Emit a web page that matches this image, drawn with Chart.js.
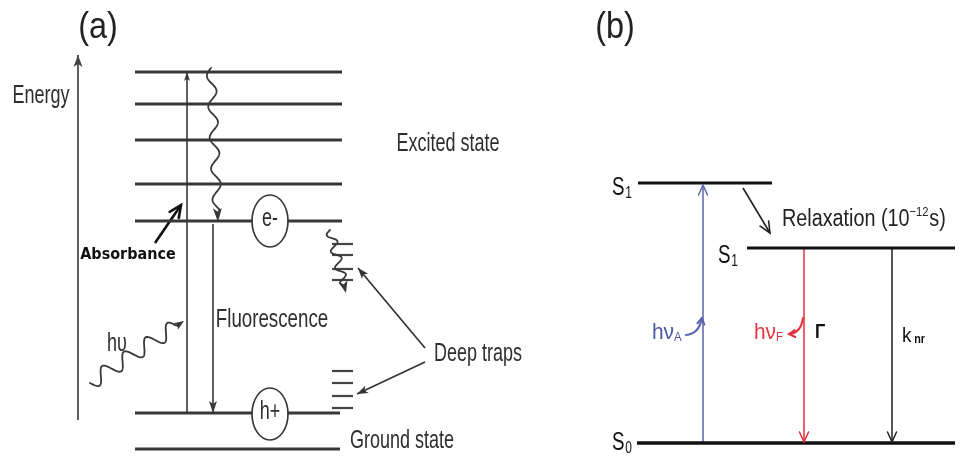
<!DOCTYPE html>
<html>
<head>
<meta charset="utf-8">
<script src="https://cdn.jsdelivr.net/npm/chart.js@4.4.1/dist/chart.umd.min.js"></script>
<style>
  html, body { margin: 0; padding: 0; background: #fff; }
  #wrap { width: 960px; height: 460px; position: relative; }
</style>
</head>
<body>
<div id="wrap"><canvas id="diagram"></canvas></div>
<script>
// ---------- Panel (a): band picture of a nanocrystal (diagram units, y grows downward) ----------
const excitedLevels = [72, 104, 140, 184, 221];   // excited manifold, lowest one holds the electron
const holeLevel = 413;
const groundLevel = 449;
const levelSpanA = [135, 342];
const upperTraps = [244, 255, 269, 280];
const lowerTraps = [371, 383, 396, 408];
const trapSpan = [332, 353];
const carrierLabels = ['e-', 'h+'];
const carrierX = 270;
const carrierY = [221, 414];
const energyAxis = { x: 78, from: 420, to: 55 };
const absorbanceLine = { x: 187, from: 413, to: 72 };
const fluorescenceLine = { x: 213, from: 224, to: 413 };
const photonPaths = [
  { from: [211, 68],  to: [218, 222] },   // intraband relaxation
  { from: [330, 230], to: [346, 293] },   // capture into shallow traps
  { from: [90, 383],  to: [184, 321] }    // incoming photon hυ
];
const pointerArrows = [
  { from: [155, 243], to: [181, 205] },   // Absorbance label
  { from: [425, 348], to: [358, 268] },   // Deep traps -> upper set
  { from: [425, 362], to: [357, 394] }    // Deep traps -> lower set
];
const labelsA = ['(a)', 'Energy', 'Excited state', 'Absorbance', 'Fluorescence', 'hυ', 'Deep traps', 'Ground state'];

// ---------- Panel (b): Jablonski scheme ----------
const stateNames = ['S', 'S', 'S'];
const stateIndex = ['1', '1', '0'];
const stateLevels = [183, 248, 443];
const stateSpans = [[638, 772], [747, 955], [637, 955]];
const transitionX = [703, 804, 892];          // absorption, radiative, non-radiative
const transitionFrom = [443, 249, 249];
const transitionTo = [185, 442, 442];
const relaxationArrow = { from: [743, 188], to: [770, 233] };
const photonHooks = [
  { from: [686, 335], ctrl: [699, 334], to: [702, 318] },
  { from: [803, 318], ctrl: [801, 333], to: [789, 334] }
];

// ---------- styles ----------
const INK_A = '#383838';
const TEXT_A = '#2e2e2e';
const INK_B = '#111111';
const BLUE = '#5a67ae';
const RED = '#e5303b';
const FAMILY = '"Liberation Sans", Arial, sans-serif';

function seg(x0, y0, x1, y1, color, width, arrow) {
  return {
    data: [{ x: x0, y: y0 }, { x: x1, y: y1 }],
    showLine: true, pointRadius: 0, pointHoverRadius: 0,
    borderColor: color, borderWidth: width, borderCapStyle: 'butt',
    fill: false, tension: 0, arrow: arrow || null
  };
}

const datasets = [];
// panel (a) levels
excitedLevels.forEach(y => datasets.push(seg(levelSpanA[0], y, levelSpanA[1], y, INK_A, 2.8)));
datasets.push(seg(levelSpanA[0], holeLevel, 340, holeLevel, INK_A, 2.8));
datasets.push(seg(levelSpanA[0], groundLevel, 340, groundLevel, INK_A, 2.8));
upperTraps.forEach(y => datasets.push(seg(trapSpan[0], y, trapSpan[1], y, '#444', 2.2)));
lowerTraps.forEach(y => datasets.push(seg(trapSpan[0], y, trapSpan[1], y, '#444', 2.2)));
// panel (a) arrows
datasets.push(seg(energyAxis.x, energyAxis.from, energyAxis.x, energyAxis.to, '#444', 1.7, { len: 12, half: 4.5 }));
datasets.push(seg(absorbanceLine.x, absorbanceLine.from, absorbanceLine.x, absorbanceLine.to, INK_A, 1.6, { len: 9, half: 3 }));
datasets.push(seg(fluorescenceLine.x, fluorescenceLine.from, fluorescenceLine.x, fluorescenceLine.to, INK_A, 1.6, { len: 12, half: 4 }));
pointerArrows.forEach((p, i) => datasets.push(seg(p.from[0], p.from[1], p.to[0], p.to[1],
  i === 0 ? '#111' : '#333', i === 0 ? 2.6 : 1.7, i === 0 ? { len: 12, half: 5.5, open: true, w: 2.6 } : { len: 11, half: 4 })));
// panel (b) states
stateLevels.forEach((y, i) => datasets.push(seg(stateSpans[i][0], y, stateSpans[i][1], y, INK_B, i === 2 ? 3.4 : 3)));
// panel (b) transitions
const transColors = [BLUE, RED, '#222'];
transitionX.forEach((x, i) => datasets.push(seg(x, transitionFrom[i], x, transitionTo[i], transColors[i], 1.5,
  { len: 10, half: 4.5, open: true, w: 1.5 })));
datasets.push(seg(relaxationArrow.from[0], relaxationArrow.from[1], relaxationArrow.to[0], relaxationArrow.to[1],
  '#222', 1.6, { len: 11, half: 5, open: true, w: 1.6 }));

// ---------- drawing helpers ----------
function headAt(ctx, tip, from, st, color) {
  const ang = Math.atan2(tip.y - from.y, tip.x - from.x);
  const bx = tip.x - st.len * Math.cos(ang), by = tip.y - st.len * Math.sin(ang);
  const px = -Math.sin(ang) * st.half, py = Math.cos(ang) * st.half;
  ctx.save();
  ctx.beginPath();
  if (st.open) {
    ctx.strokeStyle = color; ctx.lineWidth = st.w || 1.5; ctx.lineJoin = 'miter'; ctx.lineCap = 'round';
    ctx.moveTo(bx + px, by + py); ctx.lineTo(tip.x, tip.y); ctx.lineTo(bx - px, by - py);
    ctx.stroke();
  } else {
    ctx.fillStyle = color;
    ctx.moveTo(tip.x, tip.y); ctx.lineTo(bx + px, by + py);
    ctx.lineTo(bx + 0.25 * st.len * Math.cos(ang), by + 0.25 * st.len * Math.sin(ang));
    ctx.lineTo(bx - px, by - py); ctx.closePath(); ctx.fill();
  }
  ctx.restore();
}

function wave(ctx, a, b, wavelength, amp, headLen) {
  const dx = b.x - a.x, dy = b.y - a.y, L = Math.hypot(dx, dy);
  const ux = dx / L, uy = dy / L, nx = -uy, ny = ux;
  const end = L - headLen * 0.6;
  ctx.beginPath();
  for (let s = 0; s <= end; s += 0.5) {
    const fade = Math.min(1, (end - s) / 6 + 0.2);
    const off = amp * Math.sin(2 * Math.PI * s / wavelength) * fade;
    const x = a.x + ux * s + nx * off, y = a.y + uy * s + ny * off;
    if (s === 0) ctx.moveTo(x, y); else ctx.lineTo(x, y);
  }
  ctx.stroke();
}

// runs of text with their own size / offset, condensed horizontally by sx
function textRuns(ctx, x, y, runs, o) {
  ctx.save();
  ctx.fillStyle = o.color; ctx.textBaseline = 'middle'; ctx.textAlign = 'left';
  let total = 0;
  runs.forEach(r => {
    ctx.font = `${r.weight || o.weight || 'normal'} ${r.size}px ${o.family || FAMILY}`;
    r._w = ctx.measureText(r.t).width; total += r._w + (r.gap || 0);
  });
  ctx.translate(x, y); ctx.scale(o.sx || 1, 1);
  let cx = o.align === 'center' ? -total / 2 : 0;
  runs.forEach(r => {
    ctx.font = `${r.weight || o.weight || 'normal'} ${r.size}px ${o.family || FAMILY}`;
    cx += (r.gap || 0);
    ctx.fillText(r.t, cx, r.dy || 0);
    cx += r._w;
  });
  ctx.restore();
}

const decor = {
  id: 'decor',
  afterDatasetsDraw(chart) {
    const ctx = chart.ctx, X = chart.scales.x, Y = chart.scales.y;
    const P = (x, y) => ({ x: X.getPixelForValue(x), y: Y.getPixelForValue(y) });

    // arrowheads on the flagged segments
    chart.data.datasets.forEach(ds => {
      if (!ds.arrow) return;
      const d = ds.data;
      headAt(ctx, P(d[1].x, d[1].y), P(d[0].x, d[0].y), ds.arrow, ds.borderColor);
    });

    // wavy photon / relaxation paths
    const waveStyle = [
      { wl: 31, amp: 4.5, head: { len: 14, half: 4.5 }, w: 1.8 },
      { wl: 17, amp: 4.5, head: { len: 12, half: 4.5 }, w: 1.8 },
      { wl: 26, amp: 7.5, head: { len: 10, half: 4 }, w: 1.8 }
    ];
    photonPaths.forEach((p, i) => {
      const a = P(p.from[0], p.from[1]), b = P(p.to[0], p.to[1]);
      const st = waveStyle[i];
      ctx.save(); ctx.strokeStyle = INK_A; ctx.lineWidth = st.w; ctx.lineCap = 'round';
      wave(ctx, a, b, st.wl, st.amp, st.head.len);
      ctx.restore();
      headAt(ctx, b, a, st.head, INK_A);
    });

    // carriers: electron and hole drawn as ellipses on their levels
    carrierLabels.forEach((lab, i) => {
      const c = P(carrierX, carrierY[i]);
      ctx.save();
      ctx.beginPath(); ctx.ellipse(c.x, c.y, 18, 26, 0, 0, Math.PI * 2);
      ctx.fillStyle = '#fff'; ctx.fill();
      ctx.strokeStyle = INK_A; ctx.lineWidth = 1.7; ctx.stroke();
      ctx.restore();
      textRuns(ctx, c.x, c.y - 2, [{ t: lab, size: 25 }], { color: TEXT_A, sx: 0.72, align: 'center' });
    });

    // photon hooks beside hνA / hνF
    const hookColors = [BLUE, RED];
    photonHooks.forEach((h, i) => {
      const a = P(h.from[0], h.from[1]), c = P(h.ctrl[0], h.ctrl[1]), b = P(h.to[0], h.to[1]);
      ctx.save(); ctx.strokeStyle = hookColors[i]; ctx.lineWidth = 2; ctx.lineCap = 'round';
      ctx.beginPath(); ctx.moveTo(a.x, a.y); ctx.quadraticCurveTo(c.x, c.y, b.x, b.y); ctx.stroke();
      ctx.restore();
      headAt(ctx, b, c, { len: 6, half: 3.5, open: true, w: 2 }, hookColors[i]);
    });

    // ---- text, panel (a) ----
    const tA = { color: TEXT_A, sx: 0.72, align: 'center' };
    let q;
    q = P(98, 28);  textRuns(ctx, q.x, q.y, [{ t: labelsA[0], size: 36 }], { color: '#222', sx: 0.9, align: 'center' });
    q = P(41, 96);  textRuns(ctx, q.x, q.y, [{ t: labelsA[1], size: 25 }], tA);
    q = P(448, 144); textRuns(ctx, q.x, q.y, [{ t: labelsA[2], size: 25 }], tA);
    q = P(128, 255); textRuns(ctx, q.x, q.y, [{ t: labelsA[3], size: 16, weight: 'bold' }],
      { color: '#111', sx: 0.9, align: 'center', family: '"DejaVu Sans", sans-serif' });
    q = P(272, 320); textRuns(ctx, q.x, q.y, [{ t: labelsA[4], size: 26 }], tA);
    q = P(117, 344); textRuns(ctx, q.x, q.y, [{ t: labelsA[5], size: 25 }], tA);
    q = P(478, 354); textRuns(ctx, q.x, q.y, [{ t: labelsA[6], size: 25 }], tA);
    q = P(402, 441); textRuns(ctx, q.x, q.y, [{ t: labelsA[7], size: 25 }], tA);

    // ---- text, panel (b) ----
    q = P(615, 28); textRuns(ctx, q.x, q.y, [{ t: '(b)', size: 36 }], { color: '#222', sx: 0.9, align: 'center' });
    const stateLabelPos = [[612, 188], [718, 256], [612, 443]];
    stateNames.forEach((s, i) => {
      const p = P(stateLabelPos[i][0], stateLabelPos[i][1]);
      textRuns(ctx, p.x, p.y, [{ t: s, size: 25 }, { t: stateIndex[i], size: 16, dy: 6, gap: 1 }],
        { color: INK_B, sx: 0.75 });
    });
    q = P(782, 220);
    textRuns(ctx, q.x, q.y, [{ t: 'Relaxation (10', size: 23 }, { t: '−12', size: 13, dy: -8 }, { t: 's)', size: 23, gap: 1 }],
      { color: '#222', sx: 0.86 });
    q = P(652, 333);
    textRuns(ctx, q.x, q.y, [{ t: 'hν', size: 22 }, { t: 'A', size: 12, dy: 5 }], { color: '#4b59a6', sx: 0.95 });
    q = P(754, 333);
    textRuns(ctx, q.x, q.y, [{ t: 'hν', size: 22 }, { t: 'F', size: 12, dy: 5 }], { color: '#e23540', sx: 0.95 });
    q = P(815, 332);
    textRuns(ctx, q.x, q.y, [{ t: 'Γ', size: 20, weight: 'bold' }], { color: '#111', sx: 0.85 });
    q = P(902, 336);
    textRuns(ctx, q.x, q.y, [{ t: 'k', size: 21 }, { t: 'nr', size: 12, dy: 4, gap: 3, weight: 'bold' }], { color: '#111', sx: 0.9 });
  }
};

new Chart(document.getElementById('diagram'), {
  type: 'scatter',
  data: { datasets },
  options: {
    responsive: true,
    maintainAspectRatio: false,
    animation: false,
    events: [],
    layout: { padding: 0 },
    plugins: { legend: { display: false }, tooltip: { enabled: false } },
    scales: {
      x: { type: 'linear', min: 0, max: 960, display: false },
      y: { type: 'linear', min: 0, max: 460, reverse: true, display: false }
    }
  },
  plugins: [decor]
});
</script>
</body>
</html>
